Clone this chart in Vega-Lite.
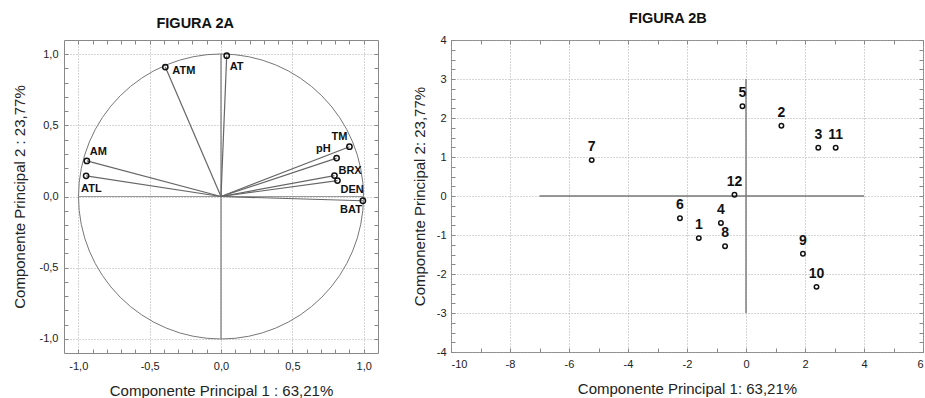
{
  "$schema": "https://vega.github.io/schema/vega-lite/v6.json",
  "padding": {"left": 11, "top": 10, "right": 0, "bottom": 0},
  "background": "white",
  "spacing": 32,
  "config": {
    "font": "Liberation Sans",
    "view": {"stroke": "#888", "strokeWidth": 1},
    "title": {"font": "Liberation Sans", "fontSize": 14.5, "fontWeight": "bold", "color": "#111", "offset": 8, "frame": "bounds", "anchor": "middle"},
    "axis": {
      "labelFont": "Liberation Sans", "titleFont": "Liberation Sans",
      "labelFontSize": 11, "titleFontSize": 15, "titleFontWeight": "normal",
      "labelColor": "#222", "titleColor": "#222",
      "tickColor": "#888", "tickSize": -4, "domain": false,
      "grid": true, "gridColor": "#aaa", "gridDash": [1, 2], "labelOverlap": false, "tickCount": 200
    }
  },
  "datasets": {
    "variables": [
      {"name": "AT", "x": 0.04, "y": 0.99},
      {"name": "ATM", "x": -0.39, "y": 0.91},
      {"name": "AM", "x": -0.94, "y": 0.25},
      {"name": "ATL", "x": -0.945, "y": 0.145},
      {"name": "TM", "x": 0.9, "y": 0.35},
      {"name": "pH", "x": 0.81, "y": 0.27},
      {"name": "BRX", "x": 0.795, "y": 0.147},
      {"name": "DEN", "x": 0.816, "y": 0.112},
      {"name": "BAT", "x": 0.994, "y": -0.03}
    ],
    "samples": [
      {"name": "1", "x": -1.6, "y": -1.08},
      {"name": "2", "x": 1.2, "y": 1.8},
      {"name": "3", "x": 2.45, "y": 1.24},
      {"name": "4", "x": -0.85, "y": -0.69},
      {"name": "5", "x": -0.12, "y": 2.3},
      {"name": "6", "x": -2.24, "y": -0.57},
      {"name": "7", "x": -5.23, "y": 0.92},
      {"name": "8", "x": -0.71, "y": -1.29},
      {"name": "9", "x": 1.93, "y": -1.48},
      {"name": "10", "x": 2.39, "y": -2.33},
      {"name": "11", "x": 3.04, "y": 1.24},
      {"name": "12", "x": -0.39, "y": 0.03}
    ]
  },
  "hconcat": [
    {
      "title": {"text": "FIGURA 2A"},
      "width": 314,
      "height": 313,
      "resolve": {"axis": {"x": "independent", "y": "independent"}},
      "layer": [
        {
          "data": {"values": [{"x": 0, "y": 0}]},
          "mark": {"type": "point", "shape": "circle", "size": 81225, "filled": false, "stroke": "#777", "strokeWidth": 1, "opacity": 1},
          "encoding": {
            "x": {"field": "x", "type": "quantitative",
              "scale": {"domain": [-1.1, 1.1], "nice": false, "zero": false},
              "axis": {
                "orient": "bottom",
                "title": "Componente Principal 1 : 63,21%",
                "values": [-1, -0.9, -0.8, -0.7, -0.6, -0.5, -0.4, -0.3, -0.2, -0.1, 0, 0.1, 0.2, 0.3, 0.4, 0.5, 0.6, 0.7, 0.8, 0.9, 1],
                "tickCount": 200,
                "labelExpr": "datum.value*2 == round(datum.value*2) ? replace((datum.value<0?'-':'') + format(abs(datum.value),'.1f'), '.', ',') : ''",
                "gridOpacity": {"condition": {"test": "datum.value*2 == round(datum.value*2)", "value": 1}, "value": 0},
                "labelOverlap": false,
                "labelPadding": 11,
                "titlePadding": 12
              }
            },
            "y": {"field": "y", "type": "quantitative",
              "scale": {"domain": [-1.1, 1.1], "nice": false, "zero": false},
              "axis": {
                "orient": "left",
                "title": "Componente Principal 2 : 23,77%",
                "values": [-1, -0.9, -0.8, -0.7, -0.6, -0.5, -0.4, -0.3, -0.2, -0.1, 0, 0.1, 0.2, 0.3, 0.4, 0.5, 0.6, 0.7, 0.8, 0.9, 1],
                "tickCount": 200,
                "labelExpr": "datum.value*2 == round(datum.value*2) ? replace((datum.value<0?'-':'') + format(abs(datum.value),'.1f'), '.', ',') : ''",
                "gridOpacity": {"condition": {"test": "datum.value*2 == round(datum.value*2)", "value": 1}, "value": 0},
                "labelOverlap": false,
                "labelPadding": 10,
                "titlePadding": 12
              }
            }
          }
        },
        {
          "data": {"values": [{"x": 0, "y": 0}]},
          "mark": {"type": "point", "opacity": 0},
          "encoding": {
            "x": {"field": "x", "type": "quantitative",
              "axis": {"orient": "top", "title": null, "labels": false, "grid": false,
                "values": [-1, -0.9, -0.8, -0.7, -0.6, -0.5, -0.4, -0.3, -0.2, -0.1, 0, 0.1, 0.2, 0.3, 0.4, 0.5, 0.6, 0.7, 0.8, 0.9, 1],
                "tickCount": 200}
            },
            "y": {"field": "y", "type": "quantitative",
              "axis": {"orient": "right", "title": null, "labels": false, "grid": false,
                "values": [-1, -0.9, -0.8, -0.7, -0.6, -0.5, -0.4, -0.3, -0.2, -0.1, 0, 0.1, 0.2, 0.3, 0.4, 0.5, 0.6, 0.7, 0.8, 0.9, 1],
                "tickCount": 200}
            }
          }
        },
        {
          "data": {"values": [{"x": -1, "y": 0, "x2": 1, "y2": 0}]},
          "mark": {"type": "rule", "stroke": "#999", "strokeWidth": 1},
          "encoding": {
            "x": {"field": "x", "type": "quantitative", "axis": null},
            "y": {"field": "y", "type": "quantitative", "axis": null},
            "x2": {"field": "x2"},
            "y2": {"field": "y2"}
          }
        },
        {
          "data": {"values": [{"x": 0, "y": -1, "x2": 0, "y2": 1}]},
          "mark": {"type": "rule", "stroke": "#777", "strokeWidth": 1.2},
          "encoding": {
            "x": {"field": "x", "type": "quantitative", "axis": null},
            "y": {"field": "y", "type": "quantitative", "axis": null},
            "x2": {"field": "x2"},
            "y2": {"field": "y2"}
          }
        },
        {
          "data": {"name": "variables"},
          "mark": {"type": "rule", "stroke": "#666", "strokeWidth": 1.2},
          "encoding": {
            "x": {"field": "x", "type": "quantitative", "axis": null},
            "y": {"field": "y", "type": "quantitative", "axis": null},
            "x2": {"datum": 0},
            "y2": {"datum": 0}
          }
        },
        {
          "data": {"name": "variables"},
          "mark": {"type": "point", "shape": "circle", "size": 28, "filled": false, "stroke": "#111", "strokeWidth": 1.5, "opacity": 1},
          "encoding": {
            "x": {"field": "x", "type": "quantitative", "axis": null},
            "y": {"field": "y", "type": "quantitative", "axis": null}
          }
        },
        {
          "data": {"name": "variables"},
          "transform": [{"filter": "datum.name == 'AT'"}],
          "mark": {"type": "text", "align": "left", "baseline": "middle", "dx": 3, "dy": 11, "fontSize": 11, "fontWeight": "bold", "color": "#111"},
          "encoding": {"x": {"field": "x", "type": "quantitative", "axis": null}, "y": {"field": "y", "type": "quantitative", "axis": null}, "text": {"field": "name"}}
        },
        {
          "data": {"name": "variables"},
          "transform": [{"filter": "datum.name == 'ATM'"}],
          "mark": {"type": "text", "align": "left", "baseline": "middle", "dx": 7, "dy": 4, "fontSize": 11, "fontWeight": "bold", "color": "#111"},
          "encoding": {"x": {"field": "x", "type": "quantitative", "axis": null}, "y": {"field": "y", "type": "quantitative", "axis": null}, "text": {"field": "name"}}
        },
        {
          "data": {"name": "variables"},
          "transform": [{"filter": "datum.name == 'AM'"}],
          "mark": {"type": "text", "align": "left", "baseline": "middle", "dx": 3, "dy": -9, "fontSize": 11, "fontWeight": "bold", "color": "#111"},
          "encoding": {"x": {"field": "x", "type": "quantitative", "axis": null}, "y": {"field": "y", "type": "quantitative", "axis": null}, "text": {"field": "name"}}
        },
        {
          "data": {"name": "variables"},
          "transform": [{"filter": "datum.name == 'ATL'"}],
          "mark": {"type": "text", "align": "left", "baseline": "middle", "dx": -5, "dy": 13, "fontSize": 11, "fontWeight": "bold", "color": "#111"},
          "encoding": {"x": {"field": "x", "type": "quantitative", "axis": null}, "y": {"field": "y", "type": "quantitative", "axis": null}, "text": {"field": "name"}}
        },
        {
          "data": {"name": "variables"},
          "transform": [{"filter": "datum.name == 'TM'"}],
          "mark": {"type": "text", "align": "right", "baseline": "middle", "dx": -2, "dy": -10, "fontSize": 11, "fontWeight": "bold", "color": "#111"},
          "encoding": {"x": {"field": "x", "type": "quantitative", "axis": null}, "y": {"field": "y", "type": "quantitative", "axis": null}, "text": {"field": "name"}}
        },
        {
          "data": {"name": "variables"},
          "transform": [{"filter": "datum.name == 'pH'"}],
          "mark": {"type": "text", "align": "right", "baseline": "middle", "dx": -6, "dy": -9, "fontSize": 11, "fontWeight": "bold", "color": "#111"},
          "encoding": {"x": {"field": "x", "type": "quantitative", "axis": null}, "y": {"field": "y", "type": "quantitative", "axis": null}, "text": {"field": "name"}}
        },
        {
          "data": {"name": "variables"},
          "transform": [{"filter": "datum.name == 'BRX'"}],
          "mark": {"type": "text", "align": "left", "baseline": "middle", "dx": 4, "dy": -5, "fontSize": 11, "fontWeight": "bold", "color": "#111"},
          "encoding": {"x": {"field": "x", "type": "quantitative", "axis": null}, "y": {"field": "y", "type": "quantitative", "axis": null}, "text": {"field": "name"}}
        },
        {
          "data": {"name": "variables"},
          "transform": [{"filter": "datum.name == 'DEN'"}],
          "mark": {"type": "text", "align": "left", "baseline": "middle", "dx": 3, "dy": 9, "fontSize": 11, "fontWeight": "bold", "color": "#111"},
          "encoding": {"x": {"field": "x", "type": "quantitative", "axis": null}, "y": {"field": "y", "type": "quantitative", "axis": null}, "text": {"field": "name"}}
        },
        {
          "data": {"name": "variables"},
          "transform": [{"filter": "datum.name == 'BAT'"}],
          "mark": {"type": "text", "align": "right", "baseline": "middle", "dx": -1, "dy": 9, "fontSize": 11, "fontWeight": "bold", "color": "#111"},
          "encoding": {"x": {"field": "x", "type": "quantitative", "axis": null}, "y": {"field": "y", "type": "quantitative", "axis": null}, "text": {"field": "name"}}
        }
      ]
    },
    {
      "title": {"text": "FIGURA 2B"},
      "width": 472,
      "height": 312,
      "resolve": {"axis": {"x": "independent", "y": "independent"}},
      "layer": [
        {
          "data": {"values": [{"x": -7, "y": 0, "x2": 4, "y2": 0}, {"x": 0, "y": -3, "x2": 0, "y2": 3}]},
          "mark": {"type": "rule", "stroke": "#777", "strokeWidth": 1.4},
          "encoding": {
            "x": {"field": "x", "type": "quantitative",
              "scale": {"domain": [-10, 6], "nice": false, "zero": false},
              "axis": {
                "orient": "bottom",
                "title": "Componente Principal 1: 63,21%",
                "values": [-10, -9, -8, -7, -6, -5, -4, -3, -2, -1, 0, 1, 2, 3, 4, 5, 6],
                "tickCount": 200,
                "labelExpr": "datum.value % 2 == 0 ? (datum.value<0?'-':'') + abs(datum.value) : ''",
                "gridOpacity": {"condition": {"test": "datum.value % 2 == 0", "value": 1}, "value": 0},
                "labelOverlap": false,
                "labelPadding": 10,
                "titlePadding": 12
              }
            },
            "y": {"field": "y", "type": "quantitative",
              "scale": {"domain": [-4, 4], "nice": false, "zero": false},
              "axis": {
                "orient": "left",
                "title": "Componente Principal 2: 23,77%",
                "values": [-4, -3.75, -3.5, -3.25, -3, -2.75, -2.5, -2.25, -2, -1.75, -1.5, -1.25, -1, -0.75, -0.5, -0.25, 0, 0.25, 0.5, 0.75, 1, 1.25, 1.5, 1.75, 2, 2.25, 2.5, 2.75, 3, 3.25, 3.5, 3.75, 4],
                "tickCount": 200,
                "labelExpr": "datum.value == round(datum.value) ? (datum.value<0?'-':'') + abs(datum.value) : ''",
                "gridOpacity": {"condition": {"test": "datum.value == round(datum.value)", "value": 1}, "value": 0},
                "labelOverlap": false,
                "labelPadding": 9,
                "titlePadding": 9
              }
            },
            "x2": {"field": "x2"},
            "y2": {"field": "y2"}
          }
        },
        {
          "data": {"values": [{"x": 0, "y": 0}]},
          "mark": {"type": "point", "opacity": 0},
          "encoding": {
            "x": {"field": "x", "type": "quantitative",
              "axis": {"orient": "top", "title": null, "labels": false, "grid": false,
                "values": [-10, -9, -8, -7, -6, -5, -4, -3, -2, -1, 0, 1, 2, 3, 4, 5, 6],
                "tickCount": 200}
            },
            "y": {"field": "y", "type": "quantitative",
              "axis": {"orient": "right", "title": null, "labels": false, "grid": false,
                "values": [-4, -3.75, -3.5, -3.25, -3, -2.75, -2.5, -2.25, -2, -1.75, -1.5, -1.25, -1, -0.75, -0.5, -0.25, 0, 0.25, 0.5, 0.75, 1, 1.25, 1.5, 1.75, 2, 2.25, 2.5, 2.75, 3, 3.25, 3.5, 3.75, 4],
                "tickCount": 200}
            }
          }
        },
        {
          "data": {"name": "samples"},
          "mark": {"type": "point", "shape": "circle", "size": 20, "filled": false, "stroke": "#111", "strokeWidth": 1.5, "opacity": 1},
          "encoding": {
            "x": {"field": "x", "type": "quantitative", "axis": null},
            "y": {"field": "y", "type": "quantitative", "axis": null}
          }
        },
        {
          "data": {"name": "samples"},
          "mark": {"type": "text", "align": "center", "baseline": "middle", "dy": -13, "fontSize": 14, "fontWeight": "bold", "color": "#111"},
          "encoding": {
            "x": {"field": "x", "type": "quantitative", "axis": null},
            "y": {"field": "y", "type": "quantitative", "axis": null},
            "text": {"field": "name"}
          }
        }
      ]
    }
  ]
}
